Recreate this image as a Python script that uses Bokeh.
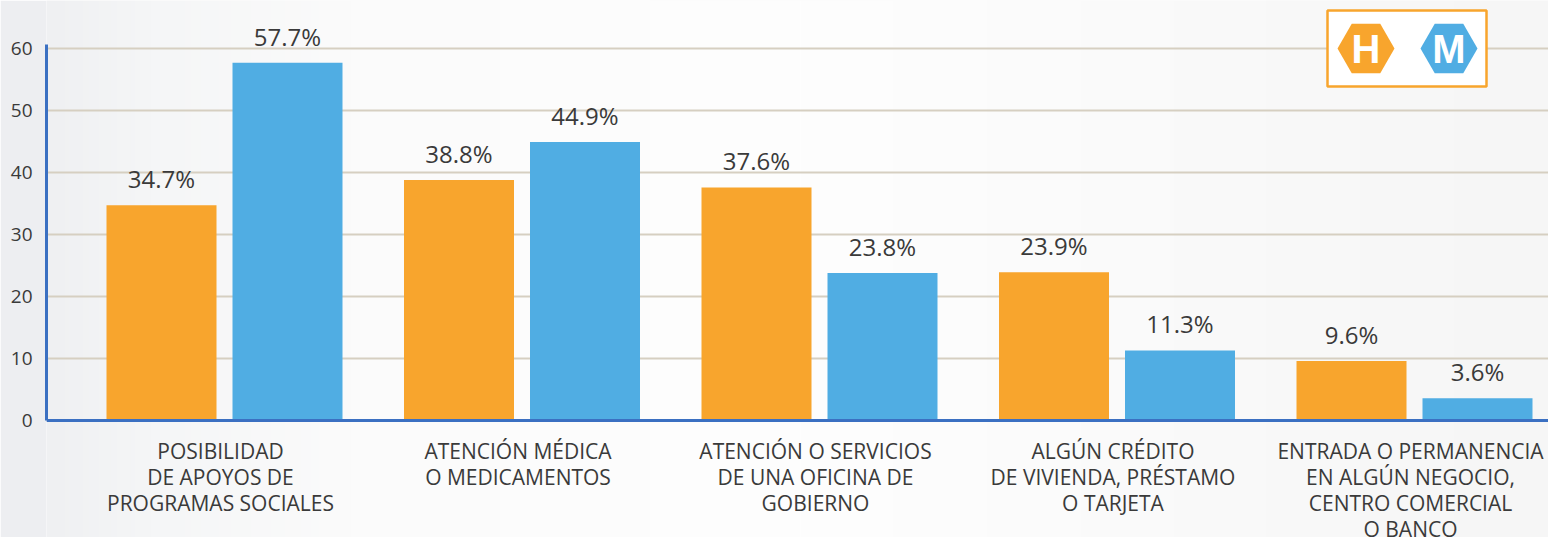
import numpy as np
from bokeh.plotting import figure
from bokeh.models import FixedTicker, Range1d, Span
from bokeh.core.properties import value
from bokeh.embed import file_html
from bokeh.resources import INLINE

categories = [
    "POSIBILIDAD\nDE APOYOS DE\nPROGRAMAS SOCIALES",
    "ATENCIÓN MÉDICA\nO MEDICAMENTOS",
    "ATENCIÓN O SERVICIOS\nDE UNA OFICINA DE\nGOBIERNO",
    "ALGÚN CRÉDITO\nDE VIVIENDA, PRÉSTAMO\nO TARJETA",
    "ENTRADA O PERMANENCIA\nEN ALGÚN NEGOCIO,\nCENTRO COMERCIAL\nO BANCO",
]
hombres = [34.7, 38.8, 37.6, 23.9, 9.6]
mujeres = [57.7, 44.9, 23.8, 11.3, 3.6]
y_ticks = [0, 10, 20, 30, 40, 50, 60]
legend_letters = ["H", "M"]

ORANGE = "#f8a52d"
BLUE = "#50ade3"
AXIS_BLUE = "#3b70c2"
TEXT = "#3a3a3a"
FONT = "Open Sans"

# layout helpers (canvas pixel -> data), used only to place decorations
GROUP_PX = 297.5
X0_PX = 224.0
Y0_PX = 420.0
PX_PER_UNIT = 6.2


def dx(px):
    return (px - X0_PX) / GROUP_PX


def dy(py):
    return (Y0_PX - py) / PX_PER_UNIT


W, H = 1548, 537
x0, x1 = dx(46), dx(W)
y0, y1 = dy(H), dy(0)
p = figure(width=W, height=H, output_backend="svg", toolbar_location=None,
           x_range=Range1d(x0, x1), y_range=Range1d(y0, y1),
           min_border_left=46, min_border_right=0, min_border_top=0,
           min_border_bottom=0)
p.outline_line_color = None
p.border_fill_color = "#edeef1"
p.background_fill_color = "#fafafa"

# soft horizontal background gradient
stops_px = [46, 150, 350, 800, 1548]
stops_rgb = np.array([[239, 240, 242], [245, 246, 247], [251, 251, 251],
                      [254, 254, 254], [246, 246, 246]], dtype=float)
cols = np.arange(46, W + 1, 2)
img = np.zeros((1, len(cols)), dtype=np.uint32)
view = img.view(dtype=np.uint8).reshape((1, len(cols), 4))
for k in range(3):
    view[0, :, k] = np.interp(cols, stops_px, stops_rgb[:, k]).astype(np.uint8)
view[0, :, 3] = 255
p.image_rgba(image=[img], x=x0, y=y0, dw=x1 - x0, dh=y1 - y0, level="image")

xs = list(range(len(categories)))
bw = 110 / GROUP_PX
off = 63 / GROUP_PX
xh = [x - off for x in xs]
xm = [x + off for x in xs]

p.vbar(x=xh, top=hombres, width=bw, bottom=0, fill_color=ORANGE, line_color=None)
p.vbar(x=xm, top=mujeres, width=bw, bottom=0, fill_color=BLUE, line_color=None)

p.text(x=xh + xm, y=hombres + mujeres,
       text=[f"{v:.1f}%" for v in hombres + mujeres],
       text_align="center", text_baseline="bottom", y_offset=-10,
       text_font=value(FONT), text_font_size="24px", text_color=TEXT)

# category labels under the baseline
p.text(x=xs, y=[0] * len(xs), text=categories, text_align="center",
       text_baseline="top", y_offset=16, x_offset=-4, text_line_height=0.93,
       text_font=value(FONT), text_font_size="21px", text_color=TEXT)

# x axis line at zero
p.add_layout(Span(location=0, dimension="width", line_color=AXIS_BLUE, line_width=3))
p.xaxis.visible = False
p.xgrid.grid_line_color = None

p.yaxis.ticker = FixedTicker(ticks=y_ticks)
p.yaxis.bounds = (0, dy(44))
p.yaxis.major_label_text_font = FONT
p.yaxis.major_label_text_font_size = "19px"
p.yaxis.major_label_text_color = TEXT
p.yaxis.major_label_standoff = 8
p.yaxis.axis_line_color = AXIS_BLUE
p.yaxis.axis_line_width = 3
p.yaxis.major_tick_line_color = None
p.yaxis.minor_tick_line_color = None

p.ygrid.grid_line_color = "#d6cfc1"
p.ygrid.grid_line_width = 2

# legend box
p.quad(left=[dx(1327)], right=[dx(1486)], bottom=[dy(86)], top=[dy(10)],
       fill_color="white", line_color=ORANGE, line_width=2.5)
hx = [dx(1365.5), dx(1448.5)]
hy = [dy(48), dy(48)]
p.scatter(x=hx, y=hy, marker="hex", size=57, fill_color=[ORANGE, BLUE], line_color=None)
p.text(x=hx, y=hy, text=legend_letters, text_align="center", text_baseline="middle",
       text_font=value("Liberation Sans"), text_font_style="bold",
       text_font_size="40px", text_color="white")

open("out.html", "w").write(file_html(p, INLINE))
